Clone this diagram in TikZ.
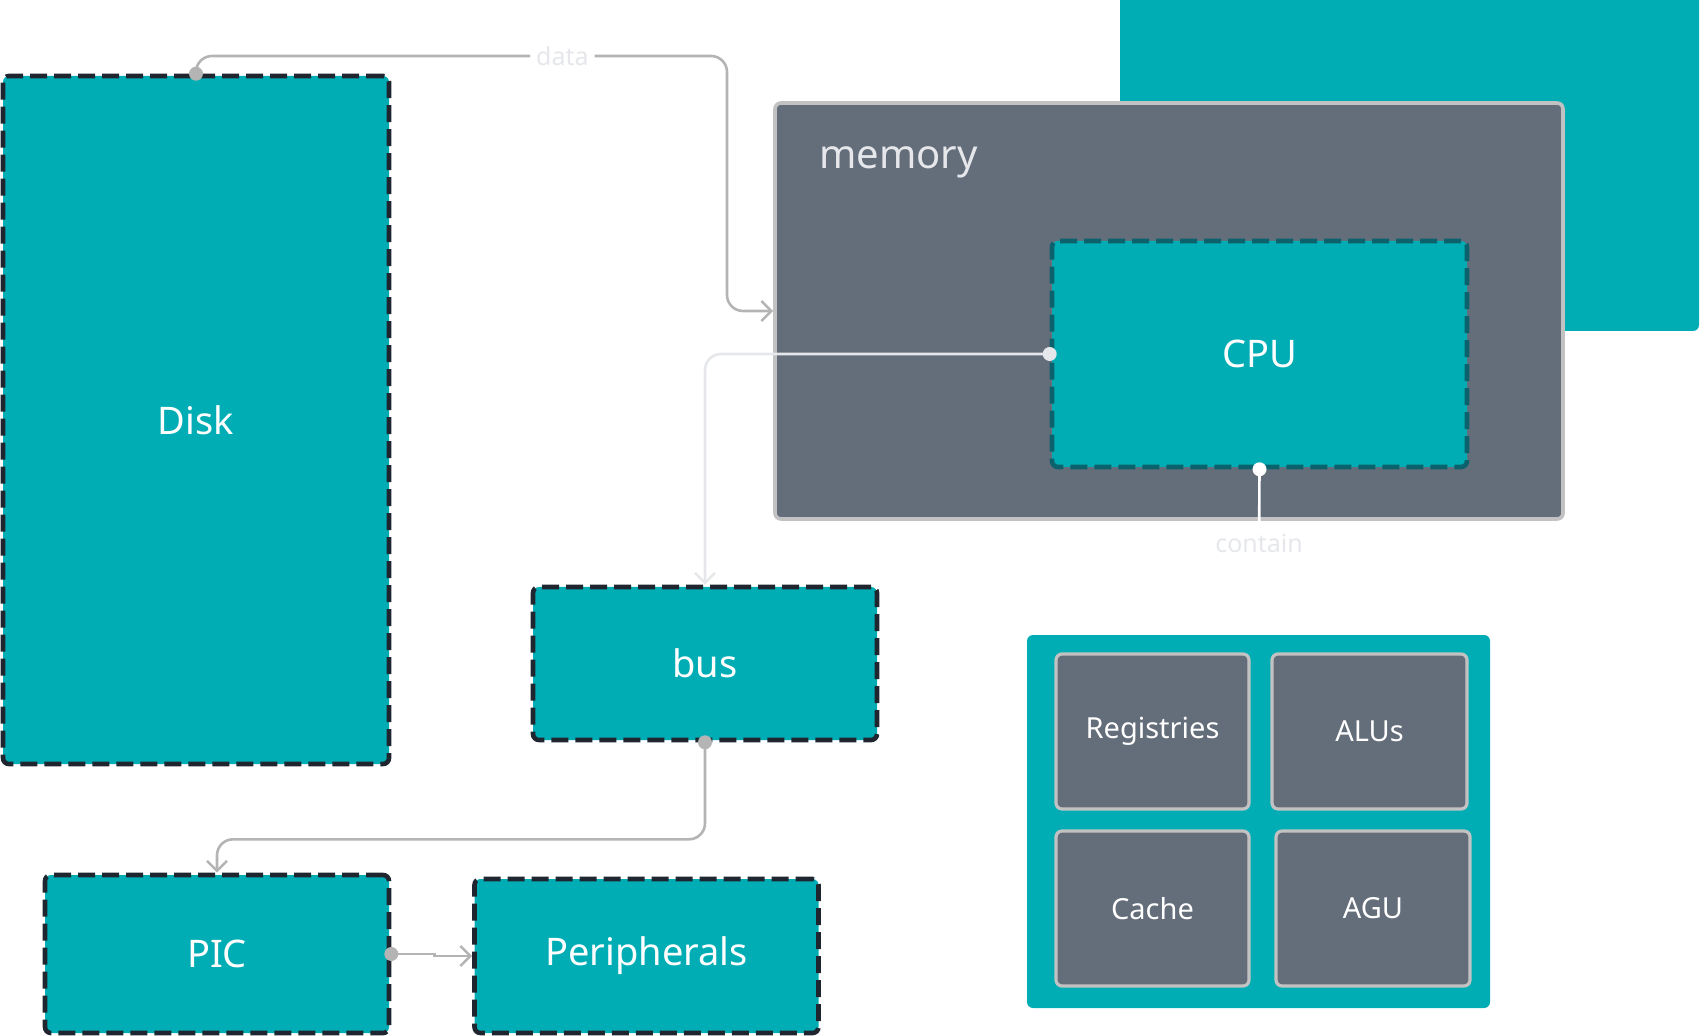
\documentclass[tikz,border=0pt]{standalone}
\usepackage{fontspec}
\setmainfont{Noto Sans}
\usetikzlibrary{arrows.meta}
\definecolor{tealc}{RGB}{0,173,181}
\definecolor{slatec}{RGB}{100,109,122}
\definecolor{edgec}{RGB}{194,194,194}
\definecolor{inkc}{RGB}{31,38,48}
\definecolor{cpuedge}{RGB}{12,98,108}
\definecolor{wirec}{RGB}{180,180,180}
\definecolor{palec}{RGB}{229,231,235}
\begin{document}
\begin{tikzpicture}[x=.5pt, y=-.5pt, >={Straight Barb[length=5pt,width=10pt]},
  dbox/.style={draw=inkc, fill=tealc, line width=2.3pt, dash pattern=on 8.5pt off 3.5pt, rounded corners=3pt, text=white, inner sep=0pt, font=\fontsize{19}{23}\selectfont},
  gbox/.style={draw=edgec, fill=slatec, line width=1.6pt, rounded corners=3pt, text=white, inner sep=0pt, font=\fontsize{14.5}{17}\selectfont},
  wire/.style={draw=wirec, line width=1.3pt, rounded corners=8pt},
  lbl/.style={text=palec, inner sep=3pt, font=\fontsize{12.5}{15}\selectfont}]
\clip (0,0) rectangle (1701,1036);
\fill[tealc, rounded corners=3pt] (1120,-20) rectangle (1699,331);
% memory with the CPU inside
\node[gbox, line width=1.8pt, minimum width=394pt, minimum height=208pt] (mem) at (1169,311) {};
\node[anchor=west, inner sep=0pt, text=palec, font=\fontsize{20}{24}\selectfont] (memlbl) at (819,162) {memory};
\node[dbox, draw=cpuedge, minimum width=207.5pt, minimum height=113pt] (cpu) at (1259.5,354) {CPU};
% the other parts
\node[dbox, minimum width=193pt, minimum height=344pt] (disk) at (196,420) {Disk};
\node[dbox, minimum width=172pt, minimum height=76.5pt] (bus) at (705,663.5) {bus};
\node[dbox, minimum width=172pt, minimum height=79pt] (pic) at (217,954) {PIC};
\node[dbox, minimum width=172pt, minimum height=77pt] (periph) at (646.5,956) {Peripherals};
% what the CPU holds
\node[fill=tealc, rounded corners=3pt, minimum width=231.5pt, minimum height=186.5pt] (grid) at (1258.5,821.5) {};
\node[gbox, minimum width=96.5pt, minimum height=77.5pt] (reg) at (1152.5,731.5) {Registries};
\node[gbox, minimum width=97.5pt, minimum height=77.5pt] (alu) at (1369.5,731.5) {ALUs};
\node[gbox, minimum width=96.5pt, minimum height=77.5pt] (cache) at (1152.5,908.5) {Cache};
\node[gbox, minimum width=97pt, minimum height=77.5pt] (agu) at (1373,908.5) {AGU};
% connectors
\draw[wire,->] (disk.north) |- node[lbl, fill=white, pos=.845]{data} (727,56) |- (mem.west);
\draw[wire, draw=palec, ->] (cpu.west) -| (bus.north);
\draw[draw=white, line width=1.3pt] (cpu.south) -- node[lbl, pos=.45]{contain} (grid.north);
\draw[wire,->] (bus.south) -- ++(0,97) -| (pic.north);
\draw[wire, sharp corners, ->] (pic.east) -- ++(43,0) |- (periph.west);
\fill[wirec] (disk.north) circle (3.5pt);
\fill[palec] (cpu.west) circle (3.5pt);
\fill[white] (cpu.south) circle (3.5pt);
\fill[wirec] (bus.south) circle (3.5pt);
\fill[wirec] (pic.east) circle (3.5pt);
\end{tikzpicture}
\end{document}
